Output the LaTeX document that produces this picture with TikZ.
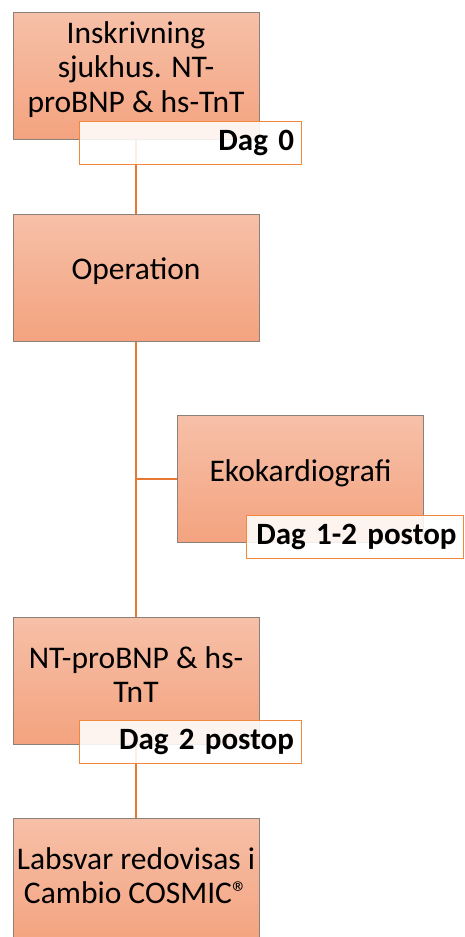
\documentclass[tikz,border=0pt]{standalone}
\usepackage{fontspec}
\setmainfont{Carlito}
\usetikzlibrary{positioning,backgrounds,calc}
\definecolor{boxtop}{RGB}{246,192,168}
\definecolor{boxbot}{RGB}{244,163,127}
\definecolor{boxline}{RGB}{140,128,122}
\definecolor{spine}{RGB}{230,120,50}
\definecolor{tagline}{RGB}{240,135,60}

\begin{document}
\begin{tikzpicture}[
  x=1pt, y=-1pt,
  font=\fontsize{31.5}{34.5}\selectfont,
  box/.style={draw=boxline, line width=1pt, top color=boxtop, bottom color=boxbot,
    minimum width=246pt, minimum height=127pt, inner sep=0pt,
    label={[align=center, yshift=6pt]center:#1}},
  tag/.style={draw=tagline, line width=1pt, fill=white, fill opacity=0.88, text opacity=1,
    font=\fontsize{31}{34}\selectfont\bfseries, text width=208pt, align=right,
    inner xsep=7pt, inner ysep=0pt, minimum height=43pt, anchor=north east},
  conn/.style={draw=spine, line width=2pt}]
\useasboundingbox (0,0) rectangle (464,937);
% timeline boxes
\node[box={Inskrivning\\sjukhus. NT-\\proBNP \& hs-TnT}] (adm) at (136,75.5) {};
\node[box=Operation, below=74pt of adm] (op) {};
\node[box={NT-proBNP \& hs-\\TnT}, below=275pt of op] (nt) {};
\node[box={Labsvar redovisas i\\Cambio COSMIC®}, below=73pt of nt] (lab) {};
\node[box=Ekokardiografi] (eko) at ($(op)!0.5!(nt)+(164.5,0)$) {};
% day tags
\node[tag] (d0) at ([xshift=42pt, yshift=19pt]adm.south east) {Dag 0};
\node[tag, text width=203pt] (d12) at ([xshift=40pt, yshift=28pt]eko.south east) {Dag 1-2 postop};
\node[tag] (d2) at ([xshift=42pt, yshift=25pt]nt.south east) {Dag 2 postop};
% spine
\begin{scope}[on background layer]
\draw[conn] (adm) -- (op);
\draw[conn] (op) -- (nt);
\draw[conn] (op.south |- eko.west) -- (eko.west);
\draw[conn] (nt) -- (lab);
\end{scope}
\end{tikzpicture}
\end{document}
